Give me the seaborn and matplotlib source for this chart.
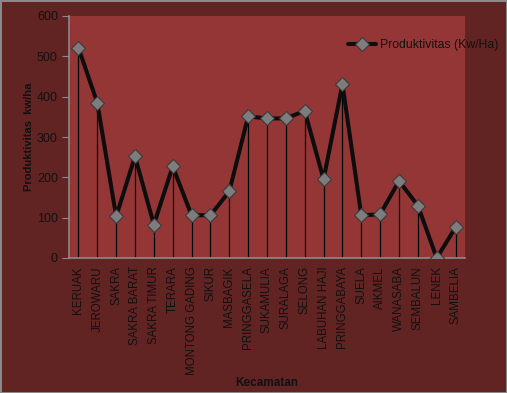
import numpy as np
import pandas as pd
import seaborn as sns
import matplotlib.pyplot as plt

kecamatan = ["KERUAK", "JEROWARU", "SAKRA", "SAKRA BARAT", "SAKRA TIMUR", "TERARA",
             "MONTONG GADING", "SIKUR", "MASBAGIK", "PRINGGASELA", "SUKAMULIA",
             "SURALAGA", "SELONG", "LABUHAN HAJI", "PRINGGABAYA", "SUELA", "AIKMEL",
             "WANASABA", "SEMBALUN", "LENEK", "SAMBELIA"]
produktivitas = [521, 385, 103, 252, 83, 227, 106, 106, 165, 351, 346,
                 346, 365, 195, 431, 106, 108, 191, 130, 0, 76]

df = pd.DataFrame({"pos": np.arange(len(kecamatan)), "kecamatan": kecamatan,
                   "produktivitas": produktivitas})

sns.set_style("white")
plt.rcParams["font.family"] = ["Liberation Sans", "DejaVu Sans"]

fig = plt.figure(figsize=(5.07, 3.93), dpi=100, facecolor="#622323")
fig.patch.set_edgecolor("#8a8a8a")
fig.patch.set_linewidth(2)
ax = fig.add_axes([69 / 507, 1 - 258 / 393, 396 / 507, 242 / 393])
ax.set_facecolor("#943636")

# drop lines from each point
ax.vlines(df["pos"], 0, df["produktivitas"], color="black", linewidth=0.9, zorder=2)

sns.lineplot(data=df, x="pos", y="produktivitas", ax=ax, color="#0d0d0d",
             linewidth=2.9, marker="D", markersize=7, markerfacecolor="#7d7d7d",
             markeredgecolor="#3a3a3a", markeredgewidth=0.8,
             label="Produktivitas (Kw/Ha)", zorder=3)

ax.set_xlim(-0.5, len(kecamatan) - 0.5)
ax.set_ylim(0, 600)
ax.set_yticks(range(0, 601, 100))
ax.set_xticks(df["pos"])
ax.set_xticklabels(kecamatan, rotation=90, fontsize=8.3, color="#111111")
ax.tick_params(axis="y", labelsize=9, labelcolor="#111111", direction="out",
               length=5, color="#8a8a8a", left=True, pad=3)
ax.tick_params(axis="x", length=0, pad=6)

for s in ["top", "right"]:
    ax.spines[s].set_visible(False)
for s in ["left", "bottom"]:
    ax.spines[s].set_color("#8a8a8a")
    ax.spines[s].set_linewidth(1.2)

ax.set_xlabel("Kecamatan", fontsize=8.5, fontweight="bold", color="#111111")
ax.xaxis.set_label_coords(0.5, -0.492)
ax.set_ylabel("Produktivitas  kw/ha", fontsize=8, fontweight="bold", color="#111111")
ax.yaxis.set_label_coords(-0.088, 0.5)

leg = ax.legend(loc="center left", bbox_to_anchor=(348 / 507, 1 - 45 / 393),
                bbox_transform=fig.transFigure, frameon=False, fontsize=8.8,
                handlelength=2.3, handletextpad=0.3, borderpad=0, borderaxespad=0)
for t in leg.get_texts():
    t.set_color("#111111")

fig.savefig("out.png", dpi=100, facecolor=fig.get_facecolor(), edgecolor=fig.patch.get_edgecolor())
